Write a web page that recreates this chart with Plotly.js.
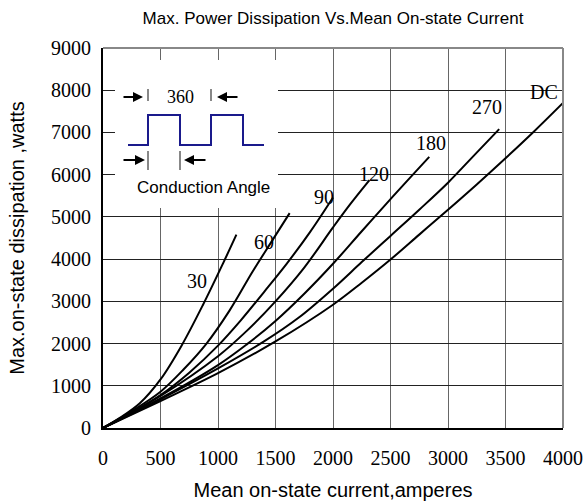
<!DOCTYPE html>
<html>
<head>
<meta charset="utf-8">
<script src="https://cdn.plot.ly/plotly-3.0.1.min.js"></script>
<style>
  html, body { margin: 0; padding: 0; background: #fff; }
  #chart { width: 587px; height: 502px; }
</style>
</head>
<body>
<div id="chart"></div>
<script>
// Mean on-state current (A) vs. maximum power dissipation (W), one curve per conduction angle
const amps30  = [0, 150, 320, 500, 683, 870, 1044, 1160];
const watts30 = [0, 245, 585, 1150, 1950, 2920, 3900, 4580];

const amps60  = [0, 250, 500, 700, 900, 1100, 1300, 1460, 1623];
const watts60 = [0, 400, 860, 1385, 2000, 2780, 3700, 4390, 5090];

const amps90  = [0, 250, 500, 750, 1000, 1200, 1400, 1600, 1800, 2000];
const watts90 = [0, 370, 780, 1310, 1950, 2555, 3220, 3900, 4640, 5460];

const amps120  = [0, 500, 1000, 1250, 1500, 1750, 2000, 2150, 2317];
const watts120 = [0, 760, 1700, 2300, 3000, 3800, 4750, 5300, 5870];

const amps180  = [0, 500, 1000, 1250, 1500, 1750, 2000, 2250, 2500, 2837];
const watts180 = [0, 700, 1490, 1980, 2535, 3180, 3890, 4660, 5420, 6420];

const amps270  = [0, 500, 1000, 1400, 1700, 2000, 2250, 2500, 2750, 3000, 3200, 3445];
const watts270 = [0, 680, 1410, 2050, 2610, 3300, 3930, 4550, 5170, 5810, 6380, 7080];

const ampsDC  = [0, 500, 1000, 1500, 2000, 2250, 2500, 2750, 3000, 3250, 3500, 3750, 4000];
const wattsDC = [0, 640, 1300, 2050, 2920, 3440, 3990, 4580, 5170, 5770, 6390, 7030, 7700];

const curveNames = ['30', '60', '90', '120', '180', '270', 'DC'];
const curveAmps  = [amps30, amps60, amps90, amps120, amps180, amps270, ampsDC];
const curveWatts = [watts30, watts60, watts90, watts120, watts180, watts270, wattsDC];

const xTickVals = [0, 500, 1000, 1500, 2000, 2500, 3000, 3500, 4000];
const yTickVals = [0, 1000, 2000, 3000, 4000, 5000, 6000, 7000, 8000, 9000];

// label offsets (px) from the end of each curve
const labelShift = {
  '30':  [-39, -46],
  '60':  [-26, -29],
  '90':  [-9, 0],
  '120': [5, 6],
  '180': [2, 14],
  '270': [-12, 22],
  'DC':  [-19, 11]
};

const serif = 'Liberation Serif, Times New Roman, serif';
const sans = 'Liberation Sans, Arial, sans-serif';

const traces = curveNames.map((name, i) => ({
  type: 'scatter',
  mode: 'lines',
  name: name,
  x: curveAmps[i],
  y: curveWatts[i],
  line: { color: '#000', width: 2, shape: 'spline', smoothing: 1.0 },
  hoverinfo: 'x+y+name',
  showlegend: false
}));

const annotations = curveNames.map((name, i) => {
  const xs = curveAmps[i], ys = curveWatts[i];
  return {
    xref: 'x', yref: 'y',
    x: xs[xs.length - 1], y: ys[ys.length - 1],
    text: name, showarrow: false,
    xanchor: 'center', yanchor: 'middle',
    xshift: labelShift[name][0], yshift: labelShift[name][1],
    font: { family: serif, size: 20, color: '#000' }
  };
});

// conduction-angle sketch in the upper-left corner (plot-relative pixels -> paper)
const PW = 460, PH = 380;
const fx = px => px / PW;
const fy = py => 1 - py / PH;

const shapes = [];
shapes.push({ type: 'rect', xref: 'paper', yref: 'paper',
  x0: fx(12), x1: fx(175), y0: fy(160), y1: fy(12),
  fillcolor: '#fff', line: { width: 0 }, layer: 'above' });

const waveX = [25, 45, 45, 77, 77, 108, 108, 140, 140, 161];
const waveY = [97, 97, 67, 67, 97, 97, 67, 67, 97, 97];
let wavePath = '';
waveX.forEach((v, i) => { wavePath += (i ? ' L ' : 'M ') + fx(v) + ' ' + fy(waveY[i]); });
shapes.push({ type: 'path', xref: 'paper', yref: 'paper', path: wavePath,
  line: { color: '#1a1a8c', width: 2 }, layer: 'above' });

[[45, 41, 53], [108, 41, 53], [45, 103, 122], [77, 103, 122]].forEach(m => {
  shapes.push({ type: 'line', xref: 'paper', yref: 'paper',
    x0: fx(m[0]), x1: fx(m[0]), y0: fy(m[1]), y1: fy(m[2]),
    line: { color: '#888', width: 2 }, layer: 'above' });
});

// outer frame: top and right edges in grey
shapes.push({ type: 'line', xref: 'paper', yref: 'paper', x0: 0, x1: 1, y0: 1, y1: 1,
  line: { color: '#888', width: 2 }, layer: 'above' });
shapes.push({ type: 'line', xref: 'paper', yref: 'paper', x0: 1, x1: 1, y0: 0, y1: 1,
  line: { color: '#888', width: 2 }, layer: 'above' });

// arrows: [head x, head y, tail x]
[[40, 49, 19], [114, 49, 136], [42, 112, 19], [81, 112, 104]].forEach(a => {
  annotations.push({ xref: 'paper', yref: 'paper', x: fx(a[0]), y: fy(a[1]),
    ax: a[2] - a[0], ay: 0, text: '', showarrow: true,
    arrowhead: 2, arrowsize: 1, arrowwidth: 2, arrowcolor: '#000' });
});
annotations.push({ xref: 'paper', yref: 'paper', x: fx(77), y: fy(49),
  xanchor: 'center', yanchor: 'middle',
  text: '360', showarrow: false, font: { family: serif, size: 18, color: '#000' } });
annotations.push({ xref: 'paper', yref: 'paper', x: fx(100), y: fy(139),
  xanchor: 'center', yanchor: 'middle',
  text: 'Conduction Angle', showarrow: false, font: { family: sans, size: 17, color: '#000' } });

const layout = {
  width: 587, height: 502,
  margin: { l: 103, r: 24, t: 48, b: 74 },
  paper_bgcolor: '#fff', plot_bgcolor: '#fff',
  title: {
    text: 'Max. Power Dissipation Vs.Mean On-state Current',
    font: { family: sans, size: 17, color: '#000' },
    xref: 'paper', x: 0.5, xanchor: 'center',
    yref: 'container', y: 1 - 18 / 502, yanchor: 'middle'
  },
  xaxis: {
    range: [0, 4000], tickvals: xTickVals, ticktext: xTickVals.map(String),
    showgrid: true, gridcolor: '#666', gridwidth: 1,
    zeroline: false, showline: true, linecolor: '#000', linewidth: 2,
    ticks: '', ticklabelstandoff: 11,
    tickfont: { family: serif, size: 20, color: '#000' },
    title: { text: 'Mean on-state current,amperes', font: { family: sans, size: 20, color: '#000' }, standoff: 15 }
  },
  yaxis: {
    range: [0, 9000], tickvals: yTickVals, ticktext: yTickVals.map(String),
    showgrid: true, gridcolor: '#222', gridwidth: 1,
    zeroline: false, showline: true, linecolor: '#000', linewidth: 2,
    ticks: '', ticklabelstandoff: 6,
    tickfont: { family: serif, size: 20, color: '#000' },
    title: { text: 'Max.on-state dissipation ,watts', font: { family: sans, size: 20, color: '#000' }, standoff: 21 }
  },
  shapes: shapes,
  annotations: annotations
};

Plotly.newPlot('chart', traces, layout, { staticPlot: true, displayModeBar: false });
</script>
</body>
</html>
